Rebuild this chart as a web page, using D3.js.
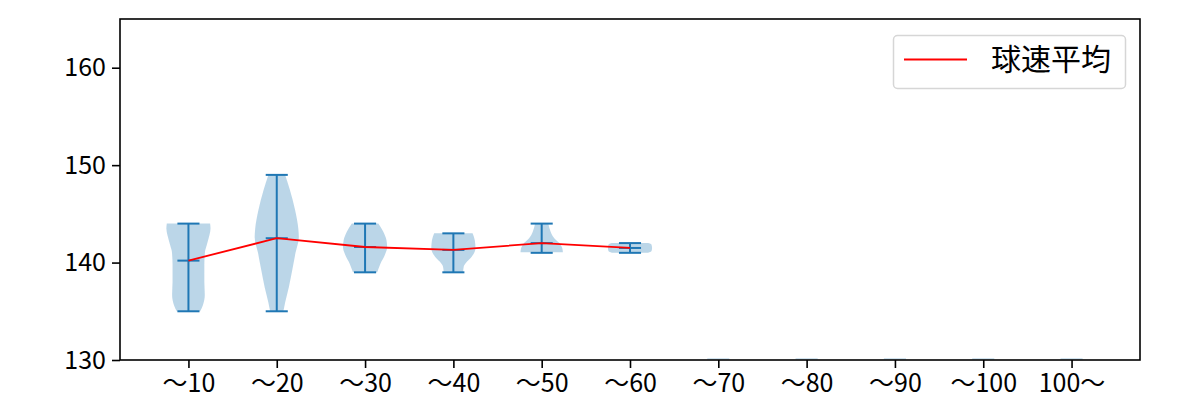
<!DOCTYPE html>
<html>
<head>
<meta charset="utf-8">
<script src="https://cdn.jsdelivr.net/npm/d3@7"></script>
<style>
  html, body { margin: 0; padding: 0; background: #fff; }
  svg { display: block; }
  text { font-family: "Noto Sans CJK JP", "Noto Sans", sans-serif; }
</style>
</head>
<body>
<svg id="chart" width="1200" height="400"></svg>
<script>
// ---- data ----
const categories = ["〜10", "〜20", "〜30", "〜40", "〜50", "〜60", "〜70", "〜80", "〜90", "〜100", "100〜"];
const minVals  = [135, 135, 139, 139, 141, 141];
const maxVals  = [144, 149, 144, 143, 144, 142];
const meanVals = [140.2, 142.5, 141.6, 141.3, 142.0, 141.5];
// violin outlines: speed values and relative density widths (max = 1)
const profileValues = [
  [135, 135.6, 136.7, 138, 139.8, 141.1, 141.8, 142.8, 143.5, 144],
  [135, 135.9, 137.5, 139.2, 141, 142.6, 143.4, 145.4, 147.5, 149],
  [139, 139.9, 140.8, 141.6, 142.3, 143.2, 144],
  [139, 139.6, 140.1, 140.6, 141.5, 142.3, 143],
  [141.06, 141.5, 142, 142.5, 143.2, 144],
  [141, 141.15, 141.5, 141.85, 142]
];
const profileWidths = [
  [0.53, 0.65, 0.74, 0.72, 0.72, 0.75, 0.83, 0.95, 1.0, 0.98],
  [0.3, 0.38, 0.55, 0.7, 0.85, 1.0, 0.98, 0.83, 0.59, 0.38],
  [0.55, 0.7, 0.9, 1.0, 0.97, 0.82, 0.6],
  [0.44, 0.47, 0.62, 0.83, 1.0, 0.97, 0.87],
  [0.96, 0.93, 0.8, 0.57, 0.4, 0.3],
  [0.82, 0.97, 1.0, 0.97, 0.82]
];
const yTicks = [130, 140, 150, 160];
const legendLabel = "球速平均";

// ---- layout ----
const svg = d3.select("#chart");
const L = 120, R = 1140, T = 19, B = 360;
const blue = "#1f77b4";
const violinWidth = 0.5;

const x = d3.scaleLinear().domain([0.225, 11.775]).range([L, R]);
const y = d3.scaleLinear().domain([130, 165]).range([B, T]);
const pos = categories.map((c, i) => i + 1);

// clip
svg.append("defs").append("clipPath").attr("id", "clip")
  .append("rect").attr("x", L).attr("y", T).attr("width", R - L).attr("height", B - T);
const plot = svg.append("g").attr("clip-path", "url(#clip)");

// violin bodies
const area = d3.area()
  .curve(d3.curveMonotoneY)
  .y(d => y(d.v))
  .x0(d => x(d.p - d.w * violinWidth / 2))
  .x1(d => x(d.p + d.w * violinWidth / 2));

profileValues.forEach((vals, i) => {
  const pts = vals.map((v, j) => ({ v: v, w: profileWidths[i][j], p: pos[i] }));
  plot.append("path")
    .attr("d", area(pts))
    .attr("fill", blue)
    .attr("fill-opacity", 0.3)
    .attr("stroke", "none");
});

// empty categories: degenerate bodies at the bottom
pos.slice(minVals.length).forEach(p => {
  plot.append("line")
    .attr("x1", x(p - violinWidth / 4)).attr("x2", x(p + violinWidth / 4))
    .attr("y1", y(130) - 1).attr("y2", y(130) - 1)
    .attr("stroke", blue).attr("stroke-opacity", 0.2).attr("stroke-width", 2);
});

// bars, extrema and means
const half = violinWidth / 4;
minVals.forEach((mn, i) => {
  const p = pos[i];
  const g = plot.append("g").attr("stroke", blue).attr("stroke-width", 2);
  g.append("line").attr("x1", x(p)).attr("x2", x(p)).attr("y1", y(mn)).attr("y2", y(maxVals[i]));
  [mn, maxVals[i], meanVals[i]].forEach(v => {
    g.append("line").attr("x1", x(p - half)).attr("x2", x(p + half))
      .attr("y1", y(v)).attr("y2", y(v));
  });
});

// mean line
plot.append("path")
  .datum(meanVals)
  .attr("d", d3.line().x((d, i) => x(pos[i])).y(d => y(d)))
  .attr("fill", "none").attr("stroke", "#ff0000").attr("stroke-width", 1.8);

// axes
const xAxis = d3.axisBottom(x).tickValues(pos).tickFormat((d, i) => categories[i]).tickSize(8).tickPadding(6);
const yAxis = d3.axisLeft(y).tickValues(yTicks).tickSize(8).tickPadding(6);

const gx = svg.append("g").attr("transform", `translate(0,${B})`).call(xAxis);
const gy = svg.append("g").attr("transform", `translate(${L},0)`).call(yAxis);
[gx, gy].forEach(g => {
  g.select(".domain").remove();
  g.selectAll(".tick line").attr("stroke", "#000").attr("stroke-width", 1.6);
  g.selectAll(".tick text").attr("fill", "#000").style("font-size", "25px")
    .style("font-family", '"Noto Sans CJK JP", sans-serif');
});

// frame
svg.append("rect").attr("x", L).attr("y", T).attr("width", R - L).attr("height", B - T)
  .attr("fill", "none").attr("stroke", "#000").attr("stroke-width", 1.6);

// legend
const lg = svg.append("g");
lg.append("rect").attr("x", 893.5).attr("y", 35.5).attr("width", 232).attr("height", 53)
  .attr("rx", 4).attr("fill", "#fff").attr("fill-opacity", 0.8)
  .attr("stroke", "#d6d6d6").attr("stroke-width", 1.5);
lg.append("line").attr("x1", 904).attr("x2", 967).attr("y1", 59.5).attr("y2", 59.5)
  .attr("stroke", "#ff0000").attr("stroke-width", 1.8);
lg.append("text").attr("x", 991).attr("y", 59.5).attr("dy", "0.35em")
  .style("font-size", "30px").attr("fill", "#000").text(legendLabel);
</script>
</body>
</html>
